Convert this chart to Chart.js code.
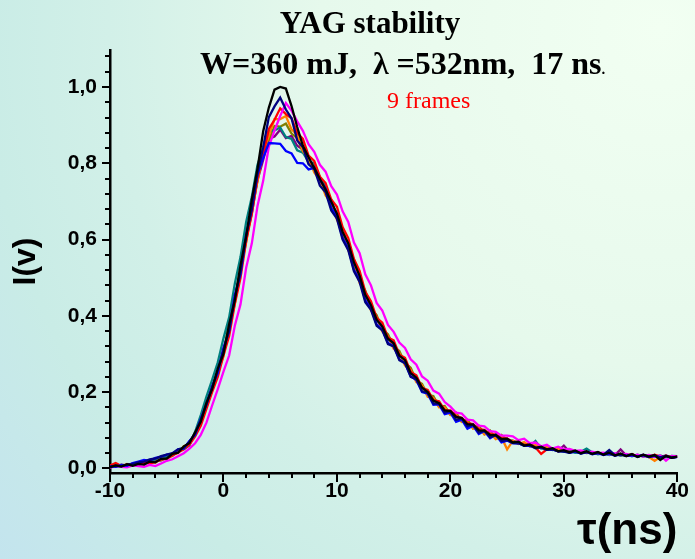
<!DOCTYPE html>
<html>
<head>
<meta charset="utf-8">
<script src="https://cdn.jsdelivr.net/npm/chart.js@4/dist/chart.umd.min.js"></script>
<style>
  body { margin: 0; }
  #wrap {
    position: relative; width: 695px; height: 559px; overflow: hidden;
    background: radial-gradient(circle farthest-corner at 95% 5%, #f2fff2 0%, #e6f9ec 40%, #d2f0e8 65%, #c9ece6 80%, #c3e4ee 100%);
  }
  #wrap canvas { position: absolute; left: 0; top: 0; }
  .lbl { position: absolute; white-space: pre; line-height: 1; font-family: "Liberation Serif", serif; }
  #t1 { left: 270px; width: 200px; top: 7px; text-align: center; font-size: 31px; font-weight: bold; }
  #t2 { left: 200px; top: 47px; font-size: 32px; font-weight: bold; }
  #t2 span { font-size: 15px; }
  #t3 { left: 387px; top: 88px; font-size: 24px; color: #ff0000; }
</style>
</head>
<body>
<div id="wrap">
  <canvas id="grafico" width="695" height="559"></canvas>
  <div class="lbl" id="t1">YAG stability</div>
  <div class="lbl" id="t2">W=360 mJ,  λ =532nm,  17 ns<span>.</span></div>
  <div class="lbl" id="t3">9 frames</div>
</div>
<script>
// =====================
// Dados (tempo em ns, sinal em mV)
// =====================
const tempo = [-10,-9.5,-9,-8.5,-8,-7.5,-7,-6.5,-6,-5.5,-5,-4.5,-4,-3.5,-3,-2.5,-2,-1.5,-1,-0.5,
  0,0.5,1,1.5,2,2.5,3,3.5,4,4.5,5,5.5,6,6.5,7,7.5,8,8.5,9,9.5,
  10,10.5,11,11.5,12,12.5,13,13.5,14,14.5,15,15.5,16,16.5,17,17.5,18,18.5,19,19.5,
  20,20.5,21,21.5,22,22.5,23,23.5,24,24.5,25,25.5,26,26.5,27,27.5,28,28.5,29,29.5,
  30,30.5,31,31.5,32,32.5,33,33.5,34,34.5,35,35.5,36,36.5,37,37.5,38,38.5,39,39.5,40];

const frameBlack = [3,8,5,11,7,12,10,18,16,25,
  26,38,41,58,66,95,122,172,208,262,
  300,378,440,532,608,705,786,884,946,993,
  1000,996,950,895,846,816,788,759,731,699,
  668,620,590,540,505,455,428,390,372,340,
  328,296,284,250,238,212,200,178,171,152,
  150,135,132,116,115,100,99,88,87,77,
  78,68,70,60,63,54,57,50,53,45,
  48,42,47,40,45,38,43,36,41,34,
  39,32,38,30,36,31,35,22,33,28,
  31];
const frameNavy = [4,7,6,10,12,16,18,24,26,32,
  36,40,50,54,70,92,128,168,212,258,
  310,362,447,516,611,679,775,842,921,949,
  972,941,918,860,842,797,785,741,724,676,
  655,600,572,517,489,436,416,374,362,326,
  320,284,276,240,234,202,198,170,170,146,
  150,127,131,110,115,94,99,82,88,72,
  74,67,66,59,61,53,55,49,50,45,
  44,41,45,39,43,38,41,36,48,35,
  37,33,36,31,35,30,34,29,33,28,
  30];
const frameBlue = [6,4,9,7,14,18,22,20,28,30,
  36,38,50,52,72,88,130,168,215,250,
  316,360,455,509,612,684,771,814,853,852,
  851,832,826,801,800,784,788,756,734,683,
  659,605,577,521,495,441,419,378,364,329,
  321,286,276,242,232,200,196,167,168,142,
  146,122,128,104,112,90,98,79,88,68,
  73,66,66,60,59,54,55,49,50,45,
  46,41,44,39,43,37,40,35,39,33,
  37,33,34,31,35,30,33,29,32,28,
  30];
const frameMagenta = [2,6,4,3,8,6,4,9,6,13,
  20,24,32,40,52,66,88,120,165,208,
  254,296,374,430,526,590,688,754,844,886,
  924,958,938,910,885,850,830,796,778,740,
  718,674,646,592,564,509,480,434,414,376,
  358,330,316,286,272,241,230,204,196,174,
  162,146,144,128,126,112,110,98,96,86,
  86,84,74,78,66,68,58,62,52,57,
  50,51,46,47,42,44,40,41,37,40,
  35,38,33,36,31,35,30,34,20,33,
  31];
const frameRed = [8,14,6,9,12,8,15,13,17,24,
  25,34,42,50,62,84,112,156,200,240,
  296,347,431,499,596,667,761,822,890,914,
  944,929,918,880,864,820,806,765,748,705,
  686,633,604,549,518,463,438,395,382,343,
  336,298,290,253,244,211,206,179,176,153,
  152,137,133,119,116,103,101,90,89,79,
  79,69,71,61,64,55,38,50,53,45,
  48,43,45,41,44,39,42,37,40,35,
  38,33,37,32,35,30,36,31,33,29,
  32];
const frameOrange = [6,9,5,12,8,14,11,18,15,26,
  24,38,40,58,64,93,120,168,205,252,
  294,371,432,524,592,684,752,832,872,916,
  916,924,889,874,832,814,776,756,716,696,
  652,621,572,541,486,461,414,396,359,346,
  314,302,270,258,226,218,188,184,160,160,
  140,140,122,122,104,106,89,93,77,82,
  50,72,64,69,58,61,55,56,50,51,
  47,42,45,40,44,38,41,37,40,34,
  38,33,36,32,35,30,20,30,33,29,
  31];
const frameTeal = [5,8,7,9,12,11,16,17,22,27,
  30,36,44,50,60,96,140,188,232,278,
  341,396,484,554,646,712,796,839,884,886,
  894,869,864,834,828,804,801,762,741,694,
  668,616,588,534,504,452,430,388,374,338,
  328,294,284,250,240,210,202,178,172,152,
  145,139,127,121,110,105,95,92,83,81,
  73,72,65,64,58,72,52,54,48,50,
  44,46,41,44,52,42,37,40,35,38,
  34,37,32,36,31,35,30,34,29,33,
  32];
const frameOlive = [4,7,9,6,11,13,12,18,20,22,
  30,33,47,52,70,88,128,172,214,256,
  304,381,440,531,600,690,756,832,860,898,
  896,904,878,866,830,816,780,764,722,704,
  656,630,576,548,494,466,419,402,364,352,
  320,308,276,264,230,222,192,190,162,164,
  141,146,122,128,105,112,90,99,78,88,
  74,73,66,65,59,59,53,55,49,50,
  45,47,42,44,40,42,38,40,36,38,
  34,37,33,35,32,34,31,33,30,32,
  30];
const framePurple = [7,5,10,8,13,10,14,15,19,21,
  28,35,43,56,66,90,124,170,212,254,
  310,362,446,512,604,669,756,809,864,870,
  888,866,872,846,836,800,790,748,732,688,
  666,616,590,538,506,456,432,390,376,340,
  331,295,286,250,241,209,203,176,174,151,
  149,136,131,118,114,102,99,89,87,78,
  77,69,69,61,62,55,56,50,52,46,
  60,43,46,41,44,39,42,37,40,35,
  50,34,37,32,36,31,35,30,34,29,
  31];

const frames = [frameBlack, frameNavy, frameBlue, frameMagenta, frameRed, frameOrange, frameTeal, frameOlive, framePurple];
const cores = ["#000000", "#000080", "#0000ff", "#ff00ff", "#ff0000", "#ff8000", "#008080", "#808000", "#800080"];

// Ticks
const xMajor = [-10, 0, 10, 20, 30, 40];
const xMinor = [-8, -6, -4, -2, 2, 4, 6, 8, 12, 14, 16, 18, 22, 24, 26, 28, 32, 34, 36, 38];
const yMajor = [0, 0.2, 0.4, 0.6, 0.8, 1.0];
const yMinor = [0.04, 0.08, 0.12, 0.16, 0.24, 0.28, 0.32, 0.36, 0.44, 0.48, 0.52, 0.56,
  0.64, 0.68, 0.72, 0.76, 0.84, 0.88, 0.92, 0.96, 1.04, 1.08];

// =====================
// Marcas dos ticks (major maiores que minor)
// =====================
const marcasTicks = {
  id: "marcasTicks",
  afterDraw(chart) {
    const { ctx, chartArea, scales } = chart;
    ctx.save();
    ctx.strokeStyle = "#000";
    ctx.lineWidth = 2;
    scales.x.ticks.forEach((t) => {
      const px = Math.round(scales.x.getPixelForValue(t.value));
      const len = xMajor.includes(t.value) ? 9 : 5;
      ctx.beginPath();
      ctx.moveTo(px, chartArea.bottom);
      ctx.lineTo(px, chartArea.bottom + len);
      ctx.stroke();
    });
    scales.y.ticks.forEach((t) => {
      const py = Math.round(scales.y.getPixelForValue(t.value));
      const len = yMajor.includes(t.value) ? 8 : 5;
      ctx.beginPath();
      ctx.moveTo(chartArea.left, py);
      ctx.lineTo(chartArea.left - len, py);
      ctx.stroke();
    });
    ctx.restore();
  },
};

Chart.defaults.font.family = "'Liberation Sans', Arial, sans-serif";
Chart.defaults.color = "#000";

const datasets = frames.map((f, i) => ({
  data: tempo.map((t, j) => ({ x: t, y: f[j] / 1000 })),
  borderColor: cores[i],
  borderWidth: 2.3,
  pointRadius: 0,
  tension: 0,
  fill: false,
}));

new Chart(document.getElementById("grafico"), {
  type: "line",
  data: { datasets },
  options: {
    responsive: false,
    animation: false,
    layout: { padding: { top: 50, right: 12, left: 0, bottom: 0 } },
    plugins: { legend: { display: false }, tooltip: { enabled: false } },
    scales: {
      x: {
        type: "linear",
        min: -10,
        max: 40,
        afterFit: (scale) => { scale.height = 86; },
        afterBuildTicks: (scale) => {
          scale.ticks = [...xMajor, ...xMinor].sort((a, b) => a - b).map((v) => ({ value: v }));
        },
        grid: { drawOnChartArea: false, drawTicks: false },
        border: { display: true, color: "#000", width: 2.5 },
        ticks: {
          autoSkip: false,
          maxRotation: 0,
          padding: 6,
          font: { size: 21, weight: "bold" },
          callback: (v) => (xMajor.includes(v) ? String(v) : ""),
        },
        title: {
          display: true,
          text: "τ(ns)",
          align: "end",
          font: { size: 44, weight: "bold", lineHeight: 1 },
          padding: { top: 0, bottom: 5 },
        },
      },
      y: {
        min: -0.012,
        max: 1.097,
        afterFit: (scale) => { scale.width = 110; },
        afterBuildTicks: (scale) => {
          scale.ticks = [...yMajor, ...yMinor].sort((a, b) => a - b).map((v) => ({ value: v }));
        },
        grid: { drawOnChartArea: false, drawTicks: false },
        border: { display: true, color: "#000", width: 2.5 },
        ticks: {
          autoSkip: false,
          padding: 13,
          font: { size: 21, weight: "bold" },
          callback: (v) => (yMajor.includes(v) ? v.toFixed(1).replace(".", ",") : ""),
        },
        title: {
          display: true,
          text: "I(v)",
          font: { size: 32, weight: "bold", lineHeight: 1 },
          padding: { top: 10, bottom: 0 },
        },
      },
    },
  },
  plugins: [marcasTicks],
});
</script>
</body>
</html>
